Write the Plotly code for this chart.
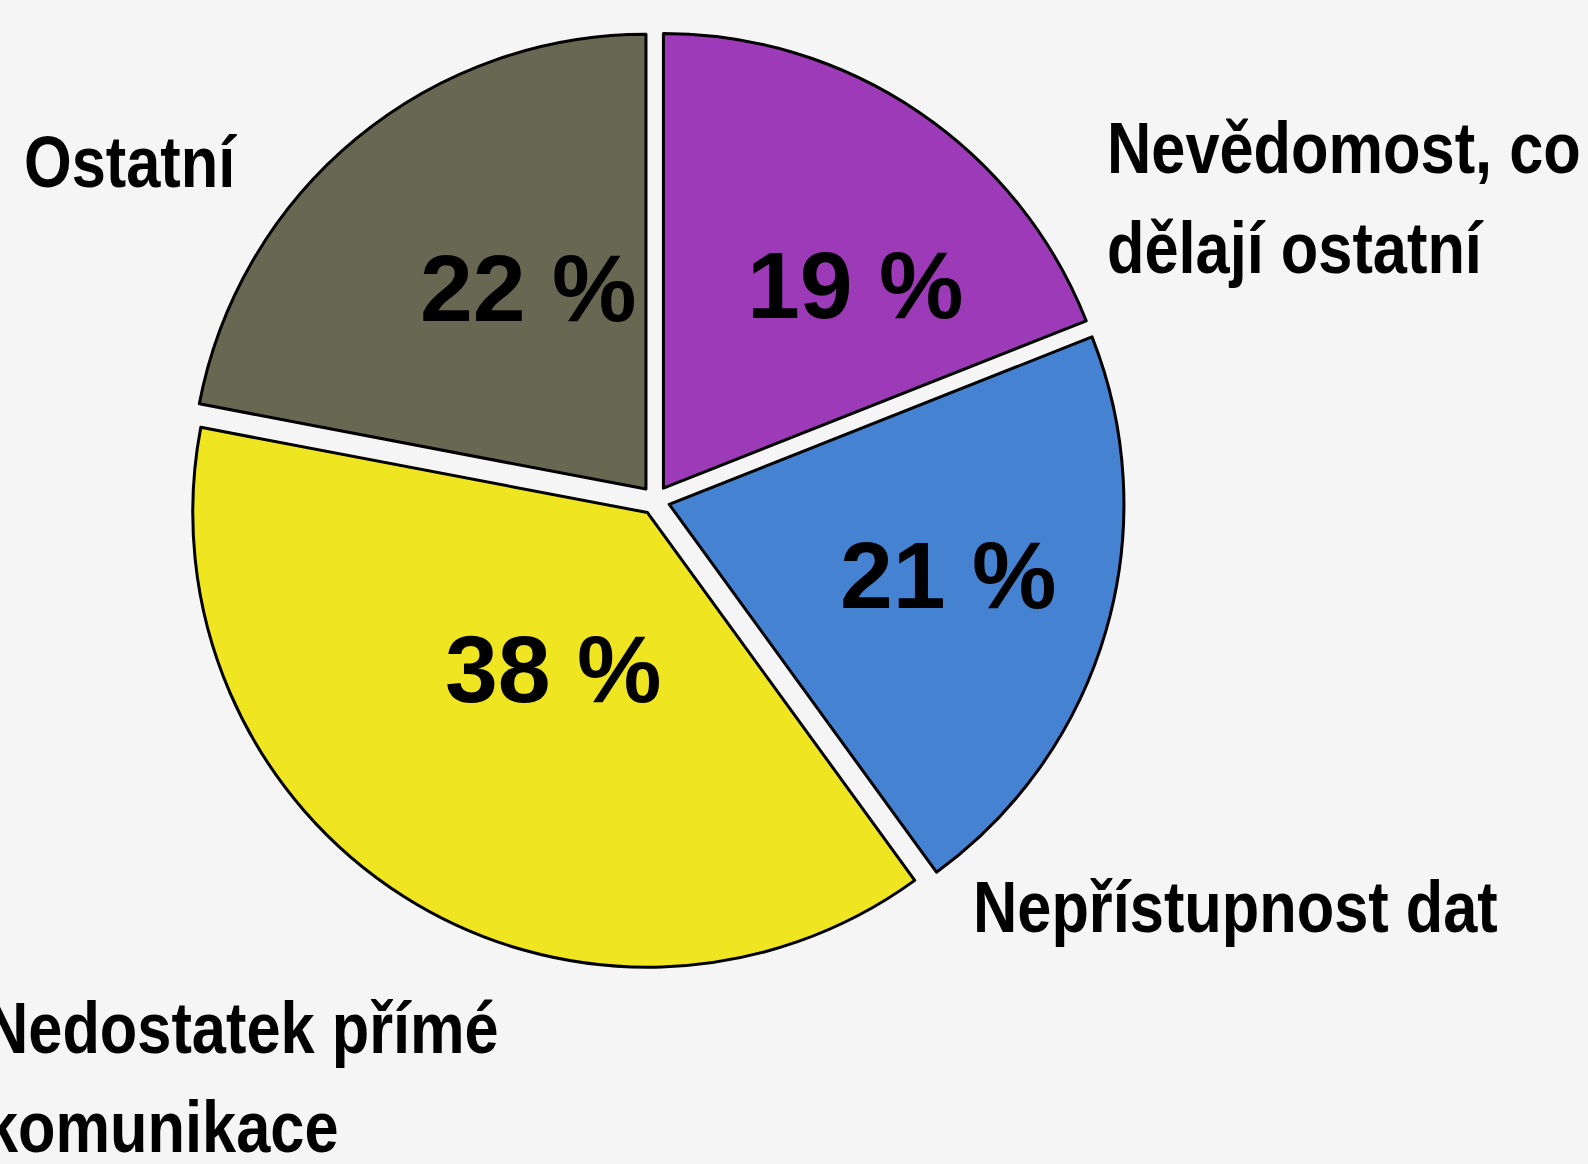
import plotly.graph_objects as go

# Data
categories = ["Nevědomost, co<br>dělají ostatní", "Nepřístupnost dat",
              "Nedostatek přímé<br>komunikace", "Ostatní"]
values = [19, 21, 38, 22]
colors = ["#9C3AB8", "#4583D2", "#F0E521", "#676752"]

W, H = 1588, 1164
BG = "#F5F5F5"

fig = go.Figure()
fig.add_trace(go.Pie(
    labels=categories,
    values=values,
    sort=False,
    direction="clockwise",
    rotation=0,
    pull=[0.032] * len(values),
    marker=dict(colors=colors, line=dict(color="black", width=3)),
    textinfo="none",
    hoverinfo="label+percent",
    showlegend=False,
    domain=dict(x=[186.0 / W, 1124.5 / W], y=[1 - 969.5 / H, 1 - 31.0 / H]),
))

def px(x):
    return x / W

def py(y):
    return 1 - y / H

annotations = []
# percent labels (centre positions in px)
pct_pos = [(855, 285), (948, 575), (553, 669), (528, 288)]
for v, (x, y) in zip(values, pct_pos):
    annotations.append(dict(
        x=px(x), y=py(y), xref="paper", yref="paper",
        xanchor="center", yanchor="middle", showarrow=False,
        text=f"{v} %",
        font=dict(family="Liberation Sans, Arial, sans-serif", size=95,
                  color="black", weight="bold"),
    ))

n_pct = len(annotations)

# category labels, one annotation per line (left x, line centres y)
label_pos = [(1105, [148, 248]), (971, [907]), (-18, [1028, 1127]), (22, [162])]
for cat, (x, ys) in zip(categories, label_pos):
    for line, y in zip(cat.split("<br>"), ys):
        annotations.append(dict(
            x=px(x), y=py(y), xref="paper", yref="paper",
            xanchor="left", yanchor="middle", align="left", showarrow=False,
            text=line,
            font=dict(family="Liberation Sans Narrow, Arial Narrow, Liberation Sans, sans-serif",
                      size=72, color="black", weight="bold"),
        ))

fig.update_layout(
    width=W, height=H,
    margin=dict(l=0, r=0, t=0, b=0),
    paper_bgcolor=BG, plot_bgcolor=BG,
    annotations=annotations,
)

post = """
document.body.style.margin='0';
document.body.style.background='%s';
var gd = document.getElementById('{plot_id}');
gd.querySelectorAll('g.annotation').forEach(function(g){
  var i = +g.getAttribute('data-index');
  if(i >= %d){
    var t = g.querySelector('text.annotation-text');
    if(t){
      t.style.transformBox='fill-box';
      t.style.transformOrigin='0%% 50%%';
      t.style.transform='scaleX(0.852)';
    }
  }
});
""" % (BG, n_pct)

fig.write_html("out.html", post_script=post, config={"displayModeBar": False})
